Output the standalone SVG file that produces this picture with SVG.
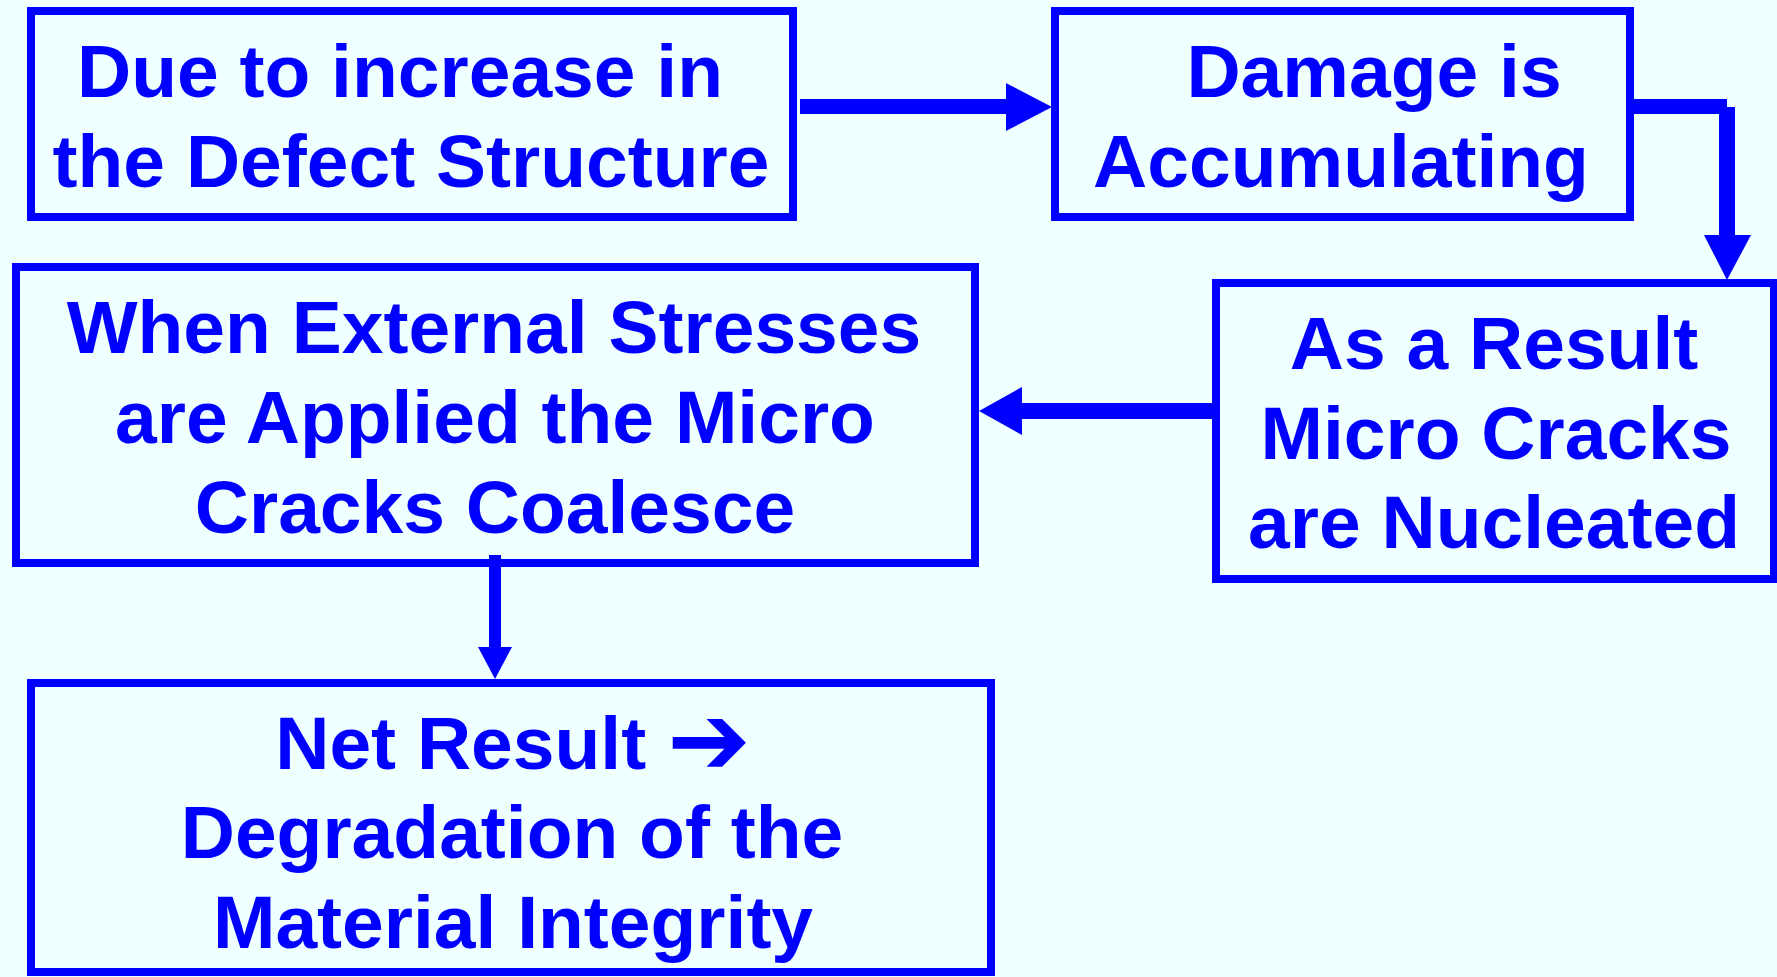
<svg xmlns="http://www.w3.org/2000/svg" width="1777" height="977" viewBox="0 0 1777 977">
<style>
.box{fill:none;stroke:#0000FF;stroke-width:8}
.t{font-family:"Liberation Sans",Arial,sans-serif;font-weight:bold;font-size:75px;fill:#0000FF;text-anchor:middle}
.c{fill:#0000FF}
</style>
<rect x="0" y="0" width="1777" height="977" fill="#F0FFFF"/>
<g id="connectors">
<rect class="c" x="800" y="99" width="207" height="15"/>
<polygon class="c" points="1006,83 1052,107 1006,131"/>
<rect class="c" x="1634" y="99" width="93" height="15"/>
<rect class="c" x="1719" y="107" width="16" height="130"/>
<polygon class="c" points="1704,235 1751,235 1727,280"/>
<rect class="c" x="1021" y="403" width="192" height="16"/>
<polygon class="c" points="1022,387 979,411 1022,435"/>
<rect class="c" x="489" y="555" width="12" height="93"/>
<polygon class="c" points="478,647 512,647 495,679"/>
</g>
<g id="n1">
<rect class="box" x="31" y="11" width="762" height="206"/>
<text class="t"><tspan x="400" y="97">Due to increase in</tspan><tspan x="411" y="187">the Defect Structure</tspan></text>
</g>
<g id="n2">
<rect class="box" x="1055" y="11" width="575" height="206"/>
<text class="t"><tspan x="1374" y="97">Damage is</tspan><tspan x="1341" y="187">Accumulating</tspan></text>
</g>
<g id="n3">
<rect class="box" x="1216" y="283" width="558" height="296"/>
<text class="t"><tspan x="1494" y="369">As a Result</tspan><tspan x="1496" y="459">Micro Cracks</tspan><tspan x="1494" y="548">are Nucleated</tspan></text>
</g>
<g id="n4">
<rect class="box" x="16" y="267" width="959" height="296"/>
<text class="t"><tspan x="494" y="353">When External Stresses</tspan><tspan x="495" y="443">are Applied the Micro</tspan><tspan x="495" y="533">Cracks Coalesce</tspan></text>
</g>
<g id="n5">
<rect class="box" x="31" y="683" width="960" height="289"/>
<text class="t"><tspan x="513" y="769">Net Result <tspan font-family="DejaVu Sans, sans-serif" font-size="100" dy="5">➔</tspan></tspan><tspan x="512" y="858">Degradation of the</tspan><tspan x="513" y="948">Material Integrity</tspan></text>
</g>
</svg>
